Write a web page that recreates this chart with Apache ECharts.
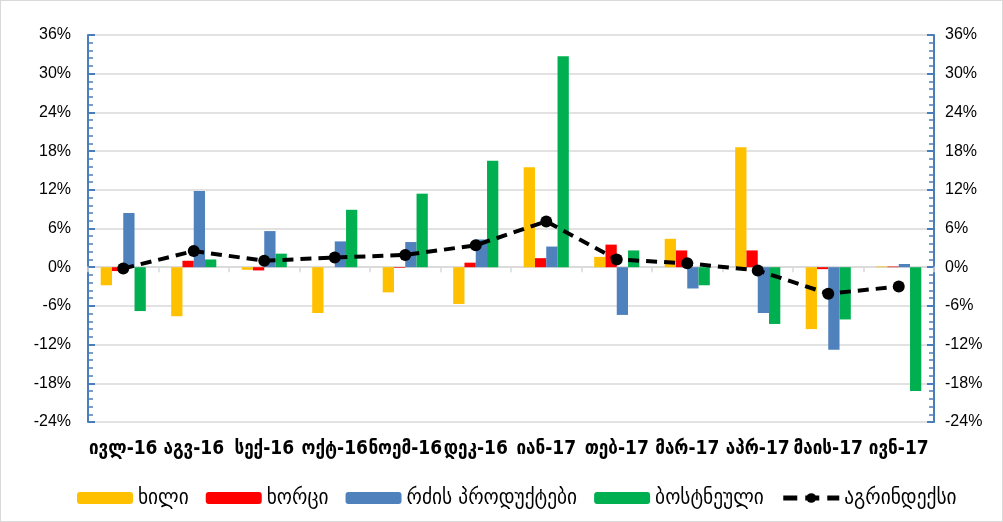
<!DOCTYPE html>
<html>
<head>
<meta charset="utf-8">
<style>
  html, body { margin: 0; padding: 0; background: #fff; }
  #main { width: 1001px; height: 520px; border: 1px solid #d9d9d9; }
</style>
<script src="https://cdn.jsdelivr.net/npm/echarts@6/dist/echarts.min.js"></script>
</head>
<body>
<div id="main"></div>
<script>
// თვეები
var months = ['ივლ-16', 'აგვ-16', 'სექ-16', 'ოქტ-16', 'ნოემ-16', 'დეკ-16', 'იან-17', 'თებ-17', 'მარ-17', 'აპრ-17', 'მაის-17', 'ივნ-17'];
// სერიები (%)
var fruit = [-2.8, -7.6, -0.4, -7.1, -3.9, -5.7, 15.5, 1.6, 4.4, 18.6, -9.6, 0.1];
var meat = [-0.6, 1.0, -0.5, 0.0, -0.1, 0.7, 1.4, 3.5, 2.6, 2.6, -0.3, 0.1];
var dairy = [8.4, 11.8, 5.6, 4.0, 3.9, 4.3, 3.2, -7.4, -3.3, -7.1, -12.8, 0.5];
var veg = [-6.8, 1.2, 2.1, 8.9, 11.4, 16.5, 32.7, 2.6, -2.8, -8.8, -8.1, -19.2];
var agri = [-0.2, 2.5, 1.0, 1.5, 1.9, 3.4, 7.1, 1.2, 0.6, -0.5, -4.1, -3.0];
// y ღერძი
var yMin = -24, yMax = 36, yStep = 6;

(function () {
    var myChart = echarts.init(document.getElementById('main'));
    var font = '"DejaVu Sans Condensed", "DejaVu Sans", sans-serif';
    var axisBlue = '#4a7ebb';

    function yAxis(pos, margin) {
        return {
            type: 'value',
            position: pos,
            min: yMin,
            max: yMax,
            interval: yStep,
            axisLine: { show: true, lineStyle: { color: axisBlue, width: 2 } },
            axisTick: { show: true, inside: true, length: 7, lineStyle: { color: axisBlue, width: 2 } },
            minorTick: { show: true, splitNumber: 5, length: 5, lineStyle: { color: axisBlue, width: 1.5 } },
            axisLabel: { color: '#000', fontSize: 16, fontFamily: 'Liberation Sans, Arial', margin: margin, formatter: '{value}%' },
            splitLine: { show: pos === 'left', lineStyle: { color: '#d9d9d9', width: 1.5 } }
        };
    }

    function bar(name, data, color) {
        return {
            name: name,
            type: 'bar',
            data: data,
            barGap: '0%',
            barCategoryGap: '36%',
            itemStyle: { color: color }
        };
    }

    var option = {
        animation: false,
        grid: { left: 87, right: 68, top: 34, bottom: 99 },
        legend: {
            top: 486,
            left: 76,
            padding: 0,
            itemWidth: 56,
            itemHeight: 12,
            itemGap: 17,
            textStyle: { color: '#000', fontSize: 21.5, fontFamily: font },
            data: ['ხილი', 'ხორცი', 'რძის პროდუქტები', 'ბოსტნეული',
                { name: 'აგრინდექსი', itemStyle: { color: '#000' }, lineStyle: { width: 5, type: [14, 8] } }]
        },
        xAxis: [
            {
                // ნულოვანი ხაზი
                type: 'category',
                data: months,
                axisLine: { onZero: true, lineStyle: { color: '#d9d9d9', width: 1.5 } },
                axisTick: { show: true, length: 5, lineStyle: { color: '#d9d9d9', width: 1.5 } },
                axisLabel: { show: false }
            },
            {
                // ქვედა წარწერები
                type: 'category',
                data: months,
                position: 'bottom',
                axisLine: { show: false, onZero: false },
                axisTick: { show: false },
                axisLabel: { interval: 0, color: '#000', fontSize: 19, fontWeight: 'bold', fontFamily: font, margin: 18 }
            }
        ],
        yAxis: [yAxis('left', 17), yAxis('right', 11)],
        series: [
            bar('ხილი', fruit, '#ffc000'),
            bar('ხორცი', meat, '#ff0000'),
            bar('რძის პროდუქტები', dairy, '#4f81bd'),
            bar('ბოსტნეული', veg, '#00b050'),
            {
                name: 'აგრინდექსი',
                type: 'line',
                data: agri,
                symbol: 'circle',
                symbolSize: 12,
                itemStyle: { color: '#000' },
                lineStyle: { color: '#000', width: 4, type: [11, 7] },
                z: 5
            }
        ]
    };
    myChart.setOption(option);
})();
</script>
</body>
</html>
